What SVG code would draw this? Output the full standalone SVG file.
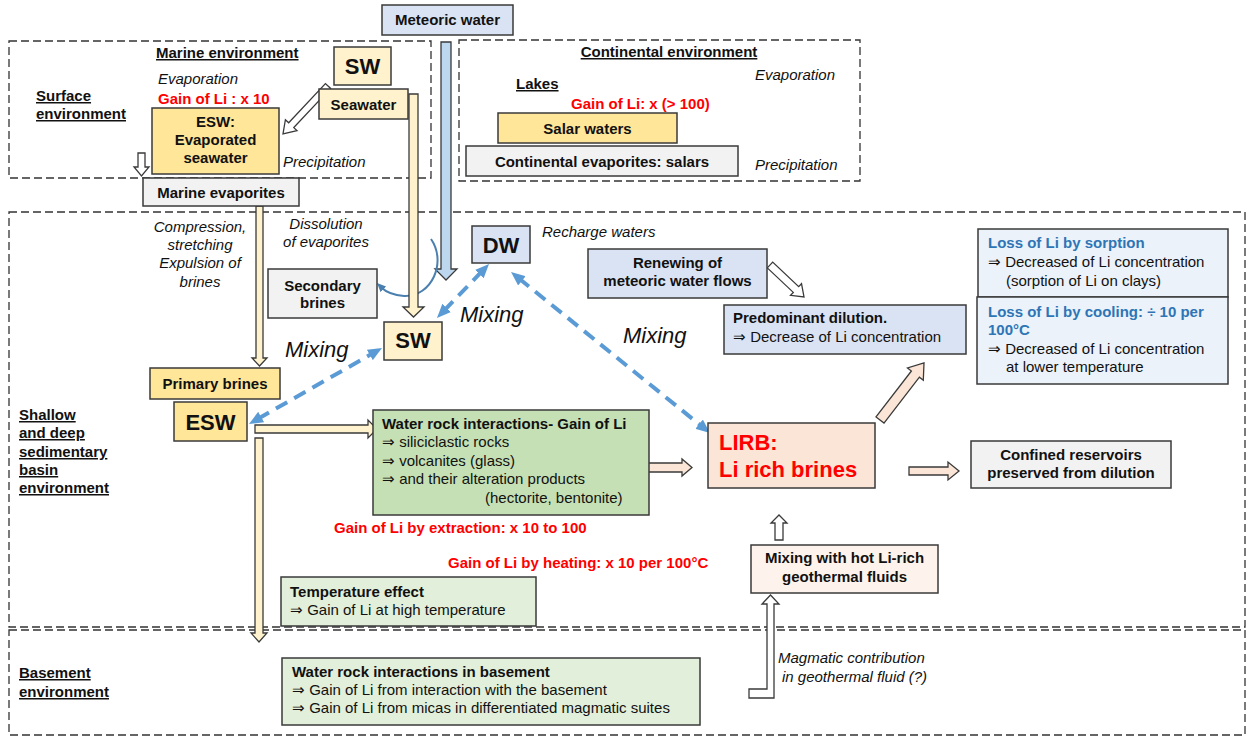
<svg xmlns="http://www.w3.org/2000/svg" width="1247" height="736" viewBox="0 0 1247 736">
<style>
text{font-family:"Liberation Sans",Arial,sans-serif;font-size:15px;fill:#111}
.b{font-weight:bold}
.i{font-style:italic}
.u{text-decoration:underline}
.c{text-anchor:middle}
.red{fill:#ff0000;font-weight:bold}
.blue{fill:#2e75b6;font-weight:bold}
.big{font-size:22px;font-weight:bold}
.mix{font-size:22px;font-style:italic}
.box{stroke:#3a3a3a;stroke-width:1.5}
.frame{fill:none;stroke:#333;stroke-width:1.3;stroke-dasharray:8 4}
.gold{fill:#ffe699}
.cream{fill:#fff2cc}
.gray{fill:#f2f2f2}
.lblue{fill:#dae3f3}
.xblue{fill:#ebf2fa}
.green{fill:#c5e0b4}
.lgreen{fill:#e2efda}
.pink{fill:#fbe5d6}
.peach{fill:#fdf3ec}
.arr{stroke:#3a3a3a;stroke-width:1.3}
.dash{fill:none;stroke:#5b9bd5;stroke-width:4;stroke-dasharray:13 8}
</style>
<defs>
<marker id="bh" markerUnits="userSpaceOnUse" markerWidth="14" markerHeight="12" refX="4" refY="6" orient="auto-start-reverse">
<path d="M0,0 L14,6 L0,12 z" fill="#5b9bd5"/>
</marker>
<marker id="ch" markerUnits="userSpaceOnUse" markerWidth="9" markerHeight="8" refX="2" refY="4" orient="auto">
<path d="M0,0 L9,4 L0,8 z" fill="#4a7fb0"/>
</marker>
</defs>
<rect width="1247" height="736" fill="#ffffff"/>

<g id="frames">
<rect id="frame-marine" class="frame" x="9" y="41" width="422" height="137"/>
<rect id="frame-continental" class="frame" x="459" y="40" width="401" height="141"/>
<rect id="frame-sedimentary" class="frame" x="9" y="212" width="1236" height="415"/>
<rect id="frame-basement" class="frame" x="9" y="630" width="1236" height="105"/>
</g>

<g id="labels">
<text class="b u" x="156" y="58">Marine environment</text>
<text class="i" x="158" y="84">Evaporation</text>
<text class="red" x="158" y="104">Gain of Li : x 10</text>
<text class="b u" x="36" y="101">Surface</text>
<text class="b u" x="36" y="119">environment</text>
<text class="i" x="283" y="167">Precipitation</text>
<text class="b u c" x="669" y="57">Continental environment</text>
<text class="i" x="755" y="80">Evaporation</text>
<text class="b u" x="516" y="89">Lakes</text>
<text class="red" x="571" y="109">Gain of Li: x (&gt; 100)</text>
<text class="i" x="755" y="170">Precipitation</text>
<text class="i c" x="200" y="232">Compression,</text>
<text class="i c" x="200" y="250">stretching</text>
<text class="i c" x="200" y="268">Expulsion of</text>
<text class="i c" x="200" y="287">brines</text>
<text class="i c" x="326" y="229">Dissolution</text>
<text class="i c" x="326" y="247">of evaporites</text>
<text class="i" x="542" y="237">Recharge waters</text>
<text class="mix" x="285" y="357">Mixing</text>
<text class="mix" x="460" y="322">Mixing</text>
<text class="mix" x="623" y="343">Mixing</text>
<text class="b u" x="19" y="420">Shallow</text>
<text class="b u" x="19" y="438">and deep</text>
<text class="b u" x="19" y="457">sedimentary</text>
<text class="b u" x="19" y="475">basin</text>
<text class="b u" x="19" y="493">environment</text>
<text class="red" x="334" y="533">Gain of Li by extraction: x 10 to 100</text>
<text class="red" x="448" y="568">Gain of Li by heating: x 10 per 100°C</text>
<text class="b u" x="19" y="678">Basement</text>
<text class="b u" x="19" y="697">environment</text>
<text class="i" x="778" y="663">Magmatic contribution</text>
<text class="i" x="782" y="682">in geothermal fluid (?)</text>
</g>

<g id="connectors">
<polygon class="arr" fill="#bdd7ee" stroke="#3b5f82" points="441,42 451,42 451,269 457,269 446,280 435,269 441,269"/>
<path d="M431,239 C447,262 432,297 404,296 C393,295 386,292 382,288" fill="none" stroke="#4a7fb0" stroke-width="2" marker-end="url(#ch)"/>
<polygon class="arr cream" points="409,94 418,94 418,307 424,307 413.5,317 403,307 409,307"/>
<polygon class="arr" fill="#fff" points="325.4,83.6 288.7,122.8 285.4,119.7 283,134 297,130.7 293.8,127.6 330.6,88.4"/>
<polygon class="arr" fill="#fff" points="138,153 145,153 145,167 149,167 141.5,176 134,167 138,167"/>
<polygon class="arr cream" points="256,206 263,206 263,358 267,358 259.5,366 252,358 256,358"/>
<polygon class="arr cream" points="255,425 368,425 368,420 377,429 368,438 368,433 255,433"/>
<polygon class="arr cream" points="255,438 263,438 263,633 267,633 259,642 251,633 255,633"/>
<polygon class="arr pink" points="643,463 682,463 682,459 692,467.5 682,476 682,472 643,472"/>
<polygon class="arr pink" points="909,467 948,467 948,462 959,471 948,480 948,475 909,475"/>
<polygon class="arr pink" points="884,423.1 919.4,377.2 923.3,380.2 924,363 907.5,368 911.4,371 876,416.9"/>
<polygon class="arr" fill="#fff" points="767.3,267.9 793.3,292.4 790.5,295.3 804,297 801.5,283.7 798.7,286.6 772.7,262.1"/>
<polygon class="arr" fill="#fff" points="775,540 775,523 771,523 779,515 787,523 783,523 783,540"/>
<polygon class="arr" fill="#fff" points="749,689 767,689 767,604 762,604 770.5,595 779,604 774,604 774,698 749,698"/>
<line class="dash" x1="257.7" y1="419" x2="373.3" y2="353" marker-start="url(#bh)" marker-end="url(#bh)"/>
<line class="dash" x1="443.9" y1="310.8" x2="482.1" y2="271.2" marker-start="url(#bh)" marker-end="url(#bh)"/>
<line class="dash" x1="518.8" y1="278.3" x2="702.2" y2="426.7" marker-start="url(#bh)" marker-end="url(#bh)"/>
</g>

<g id="meteoric-water"><rect class="box lblue" x="382" y="5" width="131" height="30"/><text class="b c" x="447.5" y="25">Meteoric water</text></g>
<g id="sw-top"><rect class="box cream" x="334" y="47" width="57" height="38"/><text class="big c" x="362.5" y="74">SW</text></g>
<g id="seawater"><rect class="box cream" x="319" y="89" width="89" height="30"/><text class="b c" x="363.5" y="110">Seawater</text></g>
<g id="esw-evaporated"><rect class="box gold" x="152" y="108" width="127" height="66"/><text class="b c" x="215.5" y="127">ESW:</text><text class="b c" x="215.5" y="145">Evaporated</text><text class="b c" x="215.5" y="163">seawater</text></g>
<g id="marine-evaporites"><rect class="box gray" x="143" y="178" width="156" height="28"/><text class="b c" x="221" y="198">Marine evaporites</text></g>
<g id="salar-waters"><rect class="box gold" x="498" y="113" width="179" height="30"/><text class="b c" x="587.5" y="134">Salar waters</text></g>
<g id="continental-evaporites"><rect class="box gray" x="466" y="146" width="272" height="30"/><text class="b c" x="602" y="167">Continental evaporites: salars</text></g>
<g id="secondary-brines"><rect class="box gray" x="268" y="269" width="109" height="49"/><text class="b c" x="322.5" y="291">Secondary</text><text class="b c" x="322.5" y="308">brines</text></g>
<g id="dw"><rect class="box lblue" x="472" y="226" width="58" height="37"/><text class="big c" x="501" y="253">DW</text></g>
<g id="sw-mid"><rect class="box cream" x="384" y="322" width="58" height="38"/><text class="big c" x="413" y="348">SW</text></g>
<g id="renewing"><rect class="box lblue" x="588" y="249" width="179" height="49"/><text class="b c" x="677.5" y="268">Renewing of</text><text class="b c" x="677.5" y="286">meteoric water flows</text></g>
<g id="predominant-dilution"><rect class="box lblue" x="724" y="305" width="242" height="49"/><text class="b" x="733" y="323">Predominant dilution.</text><text x="733" y="342">⇒ Decrease of Li concentration</text></g>
<g id="loss-sorption"><rect class="box xblue" x="978" y="229" width="250" height="68"/><text class="blue" x="988" y="248">Loss of Li by sorption</text><text x="988" y="267">⇒ Decreased of Li concentration</text><text x="1006" y="286">(sorption of Li on clays)</text></g>
<g id="loss-cooling"><rect class="box xblue" x="977" y="297" width="251" height="87"/><text class="blue" x="988" y="317">Loss of Li by cooling: ÷ 10 per</text><text class="blue" x="988" y="335">100°C</text><text x="988" y="354">⇒ Decreased of Li concentration</text><text x="1006" y="372">at lower temperature</text></g>
<g id="primary-brines"><rect class="box gold" x="150" y="368" width="130" height="31"/><text class="b c" x="215" y="389">Primary brines</text></g>
<g id="esw"><rect class="box gold" x="174" y="402" width="73" height="39"/><text class="big c" x="210.5" y="430">ESW</text></g>
<g id="water-rock"><rect class="box green" x="373" y="410" width="276" height="105"/><text class="b" x="382" y="429">Water rock interactions- Gain of Li</text><text x="382" y="447">⇒ siliciclastic rocks</text><text x="382" y="466">⇒ volcanites (glass)</text><text x="382" y="484">⇒ and their alteration products</text><text x="485" y="503">(hectorite, bentonite)</text></g>
<g id="lirb"><rect class="box pink" x="708" y="423" width="167" height="65"/><text class="big" fill="#ff0000" style="fill:#ff0000" x="719" y="450">LIRB:</text><text class="big" style="fill:#ff0000" x="719" y="477">Li rich brines</text></g>
<g id="confined"><rect class="box gray" x="971" y="441" width="200" height="47"/><text class="b c" x="1071" y="460">Confined reservoirs</text><text class="b c" x="1071" y="478">preserved from dilution</text></g>
<g id="mixing-hot"><rect class="box peach" x="751" y="545" width="187" height="48"/><text class="b c" x="844.5" y="563">Mixing with hot Li-rich</text><text class="b c" x="844.5" y="582">geothermal fluids</text></g>
<g id="temperature-effect"><rect class="box lgreen" x="281" y="577" width="255" height="49"/><text class="b" x="290" y="597">Temperature effect</text><text x="290" y="615">⇒ Gain of Li at high temperature</text></g>
<g id="basement-interactions"><rect class="box lgreen" x="282" y="658" width="418" height="67"/><text class="b" x="292" y="677">Water rock interactions in basement</text><text x="292" y="695">⇒ Gain of Li from interaction with the basement</text><text x="292" y="713">⇒ Gain of Li from micas in differentiated magmatic suites</text></g>
</svg>
